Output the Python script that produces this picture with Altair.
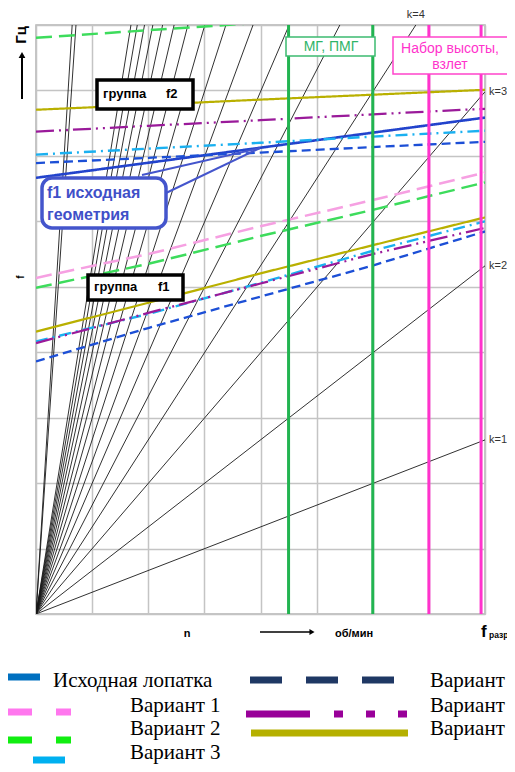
import altair as alt
import pandas as pd

# ---------------- data ----------------
x_pts = [0, 2, 4, 6, 8]          # rotor speed n (relative units, one grid cell = 1)

# group f1 (lower) natural frequencies
f1_var1 = [10.27, 11.00, 11.85, 12.65, 13.49]
f1_var2 = [9.97, 10.70, 11.55, 12.35, 13.19]
f1_var3 = [8.33, 9.17, 10.12, 11.10, 12.00]
f1_var4 = [7.72, 8.74, 9.70, 10.65, 11.69]
f1_var5 = [8.28, 9.20, 10.10, 11.00, 11.80]
f1_var6 = [8.63, 9.51, 10.41, 11.27, 12.12]
# group f2 (upper) natural frequencies
f2_base = [13.33, 13.79, 14.25, 14.71, 15.17]
f2_var2 = [17.61, 17.84, 18.07, 18.30, 18.53]
f2_var3 = [14.04, 14.22, 14.40, 14.59, 14.77]
f2_var4 = [13.78, 13.94, 14.10, 14.27, 14.43]
f2_var5 = [14.74, 14.92, 15.09, 15.27, 15.44]
f2_var6 = [15.41, 15.56, 15.72, 15.87, 16.02]

# excitation orders (rays k*n) and slope of the k=1 ray
k_orders = list(range(1, 17)) + [38, 42]
k_labeled = [1, 2, 3]
k_top_labeled = [4]
first_order_slope = 0.665

# operating regimes
regime_green_x = [4.5, 6.0]      # МГ, ПМГ
regime_pink_x = [7.0, 7.93]      # Набор высоты, взлет

series_names = ["Исходная лопатка", "Вариант 1", "Вариант 2", "Вариант 3",
                "Вариант 4", "Вариант 5", "Вариант 6"]

X_MAX, Y_MAX = 8, 18

# ---------------- tables ----------------
line_sets = [
    ("Исходная лопатка", "f2", f2_base),
    ("Вариант 1", "f1", f1_var1),
    ("Вариант 2", "f1", f1_var2),
    ("Вариант 2", "f2", f2_var2),
    ("Вариант 3", "f1", f1_var3),
    ("Вариант 3", "f2", f2_var3),
    ("Вариант 4", "f1", f1_var4),
    ("Вариант 4", "f2", f2_var4),
    ("Вариант 5", "f1", f1_var5),
    ("Вариант 5", "f2", f2_var5),
    ("Вариант 6", "f1", f1_var6),
    ("Вариант 6", "f2", f2_var6),
]
rows = []
for name, grp, vals in line_sets:
    for xv, yv in zip(x_pts, vals):
        rows.append({"series": name, "group": name + grp, "x": xv, "y": yv})
lines_df = pd.DataFrame(rows)

ray_rows = []
for k in k_orders:
    ray_rows.append({"k": k, "x": 0, "y": 0})
    ray_rows.append({"k": k, "x": X_MAX, "y": k * first_order_slope * X_MAX})
rays_df = pd.DataFrame(ray_rows)

klab_df = pd.DataFrame({"x": [X_MAX] * len(k_labeled),
                        "y": [k * first_order_slope * X_MAX for k in k_labeled],
                        "t": ["k=%d" % k for k in k_labeled]})
ktop_df = pd.DataFrame({"x": [Y_MAX / (k * first_order_slope) for k in k_top_labeled],
                        "y": [Y_MAX] * len(k_top_labeled),
                        "t": ["k=%d" % k for k in k_top_labeled]})

one = pd.DataFrame({"a": [0]})

# ---------------- styles ----------------
chart_colors = ["#2243cc", "#f6a0e2", "#3ddc5c", "#1ab0f0", "#1c4fd6", "#9a1a9a", "#b9b000"]
chart_dashes = [[1, 0], [16, 7], [16, 7], [12, 5, 2, 5], [9, 5], [18, 5, 2, 5, 2, 5], [1, 0]]
chart_widths = [2.6, 2.2, 2.2, 2.2, 2.6, 2.6, 2.2]

SANS = "Liberation Sans"
SERIF = "Liberation Serif"

xs = alt.Scale(domain=[0, X_MAX], nice=False, zero=False)
ys = alt.Scale(domain=[0, Y_MAX], nice=False, zero=False)
X = alt.X("x:Q", scale=xs, axis=alt.Axis(values=list(range(X_MAX + 1)), grid=True, labels=False,
                                         ticks=False, domain=False, title=None))
Y = alt.Y("y:Q", scale=ys, axis=alt.Axis(values=list(range(Y_MAX + 1)), grid=True, labels=False,
                                         ticks=False, domain=False, title=None))

layers = []

rays = alt.Chart(rays_df).mark_line(clip=True, color="#1a1a1a", strokeWidth=0.9).encode(
    x=X, y=Y, detail="k:N")
layers.append(rays)

freq = alt.Chart(lines_df).mark_line(clip=True).encode(
    x=alt.X("x:Q", scale=xs), y=alt.Y("y:Q", scale=ys),
    color=alt.Color("series:N", scale=alt.Scale(domain=series_names, range=chart_colors), legend=None),
    strokeDash=alt.StrokeDash("series:N", scale=alt.Scale(domain=series_names, range=chart_dashes), legend=None),
    strokeWidth=alt.StrokeWidth("series:N", scale=alt.Scale(domain=series_names, range=chart_widths), legend=None),
    detail="group:N")
layers.append(freq)

layers.append(alt.Chart(pd.DataFrame({"x": regime_green_x})).mark_rule(
    color="#22b451", strokeWidth=3).encode(x=alt.X("x:Q", scale=xs)))
layers.append(alt.Chart(pd.DataFrame({"x": regime_pink_x})).mark_rule(
    color="#ff33cc", strokeWidth=3).encode(x=alt.X("x:Q", scale=xs)))

layers.append(alt.Chart(klab_df).mark_text(align="left", baseline="middle", dx=4, fontSize=11,
                                           font=SANS, color="#333333").encode(
    x=alt.X("x:Q", scale=xs), y=alt.Y("y:Q", scale=ys), text="t:N"))
layers.append(alt.Chart(ktop_df).mark_text(align="center", baseline="middle", dy=-10, fontSize=11,
                                           font=SANS, color="#333333").encode(
    x=alt.X("x:Q", scale=xs), y=alt.Y("y:Q", scale=ys), text="t:N"))


# ---------------- annotation helpers (pixel positions in plot coordinates) ----------------
def txt(s, x, y, size=12, color="black", weight="normal", align="left", angle=0, font=SANS):
    return alt.Chart(one).mark_text(text=s, fontSize=size, color=color, fontWeight=weight,
                                    align=align, baseline="middle", angle=angle, font=font).encode(
        x=alt.value(x), y=alt.value(y))


def box(x1, y1, x2, y2, stroke, sw, radius=0):
    return alt.Chart(one).mark_rect(fill="white", stroke=stroke, strokeWidth=sw,
                                    cornerRadius=radius).encode(
        x=alt.value(x1), x2=alt.value(x2), y=alt.value(y1), y2=alt.value(y2))


def seg(x1, y1, x2, y2, color, sw, dash=None):
    kw = dict(color=color, strokeWidth=sw)
    if dash:
        kw["strokeDash"] = dash
    return alt.Chart(one).mark_rule(**kw).encode(
        x=alt.value(x1), x2=alt.value(x2), y=alt.value(y1), y2=alt.value(y2))


# regime boxes
layers.append(box(250, 12, 339, 31, "#3cba70", 1.5))
layers.append(txt("МГ, ПМГ", 295, 22, size=14, color="#2fb468", align="center"))
layers.append(box(357, 12, 472, 49, "#ff44cc", 1.5))
layers.append(txt("Набор высоты,", 414, 24, size=14, color="#ff33cc", align="center"))
layers.append(txt("взлет", 414, 40, size=14, color="#ff33cc", align="center"))

# group boxes
layers.append(box(61, 55, 157, 84, "black", 3.5))
layers.append(txt("группа", 67, 69, size=13, weight="bold"))
layers.append(txt("f2", 130, 69, size=13, weight="bold"))
layers.append(box(52, 250, 147, 275, "black", 3.5))
layers.append(txt("группа", 58, 262, size=13, weight="bold"))
layers.append(txt("f1", 122, 262, size=13, weight="bold"))

# callout for the original geometry
layers.append(seg(106, 150, 224, 123, "#4455cc", 2))
layers.append(seg(130, 168, 224, 123, "#4455cc", 2))
layers.append(box(6, 153, 130, 203, "#4455cc", 3.5, radius=10))
layers.append(txt("f1 исходная", 11, 168, size=16, color="#3f50c8", weight="bold"))
layers.append(txt("геометрия", 11, 190, size=16, color="#3f50c8", weight="bold"))

# y axis caption
layers.append(txt("Гц", -15, 10, size=15, weight="bold", align="center", angle=270))
layers.append(seg(-14, 74, -14, 32, "black", 2))
layers.append(alt.Chart(one).mark_point(shape="triangle-up", filled=True, size=45, color="black",
                                        opacity=1).encode(x=alt.value(-14), y=alt.value(30)))
layers.append(txt("f", -15, 252, size=10, weight="bold", align="center", angle=270))

# x axis caption
layers.append(txt("n", 151, 609, size=11, weight="bold", align="center"))
layers.append(seg(224, 607, 274, 607, "black", 1.5))
layers.append(alt.Chart(one).mark_point(shape="triangle-right", filled=True, size=35, color="black",
                                        opacity=1).encode(x=alt.value(276), y=alt.value(607)))
layers.append(txt("об/мин", 318, 609, size=11, weight="bold", align="center"))
layers.append(txt("f", 445, 607, size=17, weight="bold"))
layers.append(txt("разр", 453, 610, size=8.5, weight="bold"))

# ---------------- custom legend ----------------
leg_colors = ["#0070c0", "#ff77ee", "#11ee11", "#00b0f0", "#1f3864", "#990099", "#b5b000"]
leg_dashes = [None, [32, 24], [32, 24], [6, 25, 32, 25], [32, 24], [64, 24, 9, 23, 9, 23, 9, 23], None]
# column 1 (swatches start at page edge), column 2
leg_swatch = [(-36, 4, 652), (-36, 35, 687), (-36, 35, 715), (-34, 29, 735),
              (214, 359, 655), (210, 372, 689), (215, 372, 708)]
leg_text = [(17, 656), (94, 681), (94, 704), (94, 728), (394, 656), (394, 681), (394, 704)]
for i, name in enumerate(series_names):
    x1, x2, yy = leg_swatch[i]
    layers.append(seg(x1, yy, x2, yy, leg_colors[i], 7, leg_dashes[i]))
    tx, ty = leg_text[i]
    layers.append(txt(name, tx, ty, size=21, font=SERIF))

chart = alt.layer(*layers).properties(
    width=449, height=589,
    padding={"left": 28, "top": 17, "right": 22, "bottom": 150},
    autosize=alt.AutoSizeParams(type="none"),
    background="white",
).configure_view(stroke="#b4b4b4", strokeWidth=1.5).configure_axis(
    gridColor="#c4c4c4", gridWidth=1.5, gridOpacity=1)

chart.save("out.html", embed_options={"renderer": "svg", "actions": False})
